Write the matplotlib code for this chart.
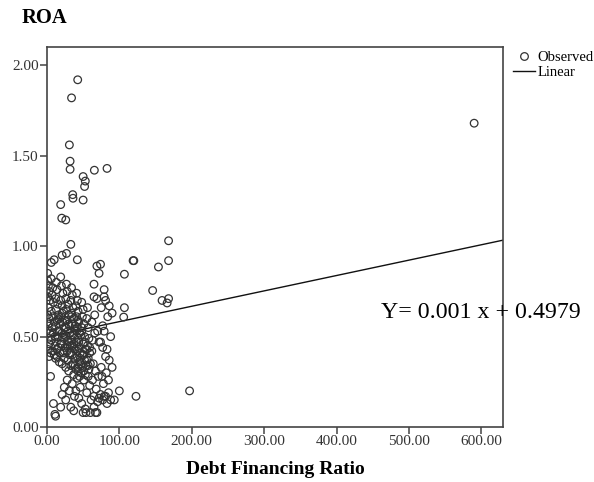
import matplotlib
matplotlib.use("Agg")
import matplotlib.pyplot as plt
from matplotlib.lines import Line2D

# ---- data ----
upper_x = [42.5, 34, 31, 32, 32, 65.5, 83, 50, 53, 52, 35.6, 36, 50, 19, 20.5, 26,
           33, 27, 21, 10, 6, 42, 168, 119, 120, 168, 154, 107, 146, 159, 168, 166,
           107, 106, 590]
upper_y = [1.92, 1.82, 1.56, 1.47, 1.425, 1.42, 1.43, 1.385, 1.36, 1.33, 1.285, 1.265,
           1.255, 1.23, 1.155, 1.145, 1.01, 0.96, 0.95, 0.925, 0.91, 0.925, 1.03, 0.92,
           0.92, 0.92, 0.885, 0.845, 0.755, 0.70, 0.71, 0.686, 0.66, 0.608, 1.68]

core_x = [1, 1, 2, 3, 1, 4, 2, 1, 3, 2, 1, 4, 2, 3, 1, 5, 3,
          6, 8, 7, 9, 6, 8, 10, 7, 9, 6, 11, 8, 10, 12,
          13, 14, 12, 15, 13, 16, 14, 12, 17, 15, 13, 16, 18, 14, 17,
          19, 20, 22, 19, 21, 23, 20, 22, 24, 21, 23, 20, 25, 22, 24, 21, 26,
          27, 28, 26, 29, 27, 30, 28, 31, 29, 27, 30, 32, 28, 31, 29, 33, 30,
          34, 35, 33, 36, 34, 37, 35, 38, 36, 34, 37, 39, 35, 38, 36, 40, 37,
          41, 42, 40, 43, 41, 44, 42, 45, 43, 41, 44, 46, 42, 45, 43, 47,
          48, 50, 49, 51, 48, 52, 50, 53, 49, 52, 54, 51,
          56, 55, 57, 58, 56, 59, 57, 60, 58]
core_y = [0.85, 0.81, 0.78, 0.75, 0.72, 0.70, 0.66, 0.62, 0.60, 0.57, 0.54, 0.52, 0.49, 0.46, 0.43, 0.41, 0.39,
          0.82, 0.77, 0.73, 0.69, 0.64, 0.61, 0.58, 0.55, 0.52, 0.48, 0.45, 0.42, 0.40, 0.38,
          0.80, 0.76, 0.71, 0.68, 0.65, 0.62, 0.59, 0.56, 0.53, 0.50, 0.47, 0.44, 0.41, 0.39, 0.36,
          0.83, 0.78, 0.74, 0.70, 0.67, 0.64, 0.61, 0.58, 0.55, 0.52, 0.49, 0.46, 0.44, 0.41, 0.38, 0.35, 0.33,
          0.79, 0.75, 0.71, 0.68, 0.65, 0.62, 0.59, 0.56, 0.53, 0.50, 0.47, 0.45, 0.42, 0.40, 0.37, 0.34, 0.31,
          0.77, 0.73, 0.70, 0.66, 0.63, 0.60, 0.57, 0.54, 0.51, 0.48, 0.46, 0.43, 0.40, 0.38, 0.35, 0.32, 0.29,
          0.74, 0.70, 0.67, 0.64, 0.61, 0.58, 0.55, 0.52, 0.49, 0.47, 0.44, 0.41, 0.39, 0.36, 0.33, 0.30,
          0.69, 0.65, 0.61, 0.57, 0.53, 0.50, 0.46, 0.43, 0.40, 0.37, 0.34, 0.31,
          0.66, 0.60, 0.55, 0.49, 0.45, 0.41, 0.38, 0.35, 0.32]

# extra points filling the darkest part of the cluster
dense_x = [11, 15, 18, 23, 26, 29, 32, 35, 38, 41, 44, 47, 14, 19, 24, 28, 33, 37, 42, 46,
           16, 21, 25, 30, 34, 39, 43, 48, 52, 55, 39, 43, 47, 51, 55, 59, 45, 49, 53, 57]
dense_y = [0.50, 0.53, 0.57, 0.51, 0.55, 0.48, 0.52, 0.45, 0.49, 0.53, 0.47, 0.51, 0.43, 0.46,
           0.42, 0.45, 0.41, 0.44, 0.42, 0.38, 0.60, 0.63, 0.59, 0.57, 0.61, 0.56, 0.59, 0.55,
           0.47, 0.43, 0.34, 0.31, 0.35, 0.40, 0.37, 0.44, 0.28, 0.33, 0.29, 0.34]

low_x = [5, 9, 11, 12, 19, 21, 26, 24, 28, 31, 33, 35, 37, 38, 40, 42, 44, 46, 48, 50,
         51, 53, 54, 55, 57, 59, 60, 61, 63, 65, 65, 67, 69, 68, 70, 72, 74, 76, 77, 79,
         81, 83, 85, 88, 93, 100, 123, 197]
low_y = [0.28, 0.13, 0.07, 0.06, 0.11, 0.18, 0.15, 0.22, 0.26, 0.20, 0.11, 0.24, 0.09, 0.17,
         0.20, 0.27, 0.16, 0.22, 0.13, 0.08, 0.26, 0.10, 0.08, 0.19, 0.28, 0.23, 0.08, 0.15,
         0.26, 0.11, 0.17, 0.08, 0.08, 0.21, 0.14, 0.16, 0.18, 0.28, 0.15, 0.17, 0.17, 0.13,
         0.19, 0.15, 0.15, 0.20, 0.17, 0.20]

mid_x = [62, 65, 65, 66, 69, 69, 70, 72, 72, 74, 74, 75, 77, 77, 79, 79, 79, 81, 81, 83,
         84, 86, 86, 88, 90, 62, 64, 67, 71, 75, 78, 82, 85, 90, 63, 66]
mid_y = [0.58, 0.79, 0.72, 0.62, 0.89, 0.71, 0.53, 0.85, 0.47, 0.90, 0.47, 0.66, 0.56, 0.44,
         0.76, 0.72, 0.53, 0.70, 0.39, 0.43, 0.61, 0.67, 0.37, 0.50, 0.63, 0.42, 0.35, 0.31,
         0.28, 0.33, 0.24, 0.30, 0.26, 0.33, 0.48, 0.52]

obs_x = upper_x + core_x + dense_x + low_x + mid_x
obs_y = upper_y + core_y + dense_y + low_y + mid_y

fit_intercept = 0.4979
fit_slope = 0.00085
fit_x = [0, 630]
fit_y = [fit_intercept + fit_slope * v for v in fit_x]

xticks = [0, 100, 200, 300, 400, 500, 600]
yticks = [0.0, 0.5, 1.0, 1.5, 2.0]

serif = ["Liberation Serif", "DejaVu Serif"]
plt.rcParams["font.family"] = serif

fig = plt.figure(figsize=(5.94, 4.82), dpi=100)
ax = fig.add_axes([0.079, 0.114, 0.768, 0.788])

ax.scatter(obs_x, obs_y, s=30, facecolors="none", edgecolors="#333333",
           linewidths=0.9, zorder=3)
ax.plot(fit_x, fit_y, color="#111111", lw=1.0, zorder=2)

ax.set_xlim(0, 630)
ax.set_ylim(0, 2.1)
ax.set_xticks(xticks)
ax.set_yticks(yticks)
ax.set_xticklabels([f"{v:.2f}" for v in xticks])
ax.set_yticklabels([f"{v:.2f}" for v in yticks])
ax.tick_params(axis="both", direction="out", length=5, width=1.1,
               labelsize=11, labelcolor="#333333", color="#444444", pad=1)
for sp in ax.spines.values():
    sp.set_color("#444444")
    sp.set_linewidth(1.2)

ax.set_xlabel("Debt Financing Ratio", fontsize=14, fontweight="bold", labelpad=9)
fig.text(0.037, 0.963, "ROA", fontsize=14.8, fontweight="bold", ha="left", va="center")

ax.text(461, 0.634, "Y= 0.001 x + 0.4979", fontsize=17.2, ha="left", va="center",
        clip_on=False)

handles = [Line2D([], [], marker="o", ls="none", mfc="none", mec="#333333", ms=5.5, mew=0.9),
           Line2D([], [], color="#111111", lw=1.0)]
fig.legend(handles, ["Observed", "Linear"], loc="upper left",
           bbox_to_anchor=(0.846, 0.915), frameon=False, fontsize=10.5,
           handlelength=1.5, handletextpad=0.2, labelspacing=0.1, borderpad=0.2)

fig.savefig("out.png", dpi=100)
